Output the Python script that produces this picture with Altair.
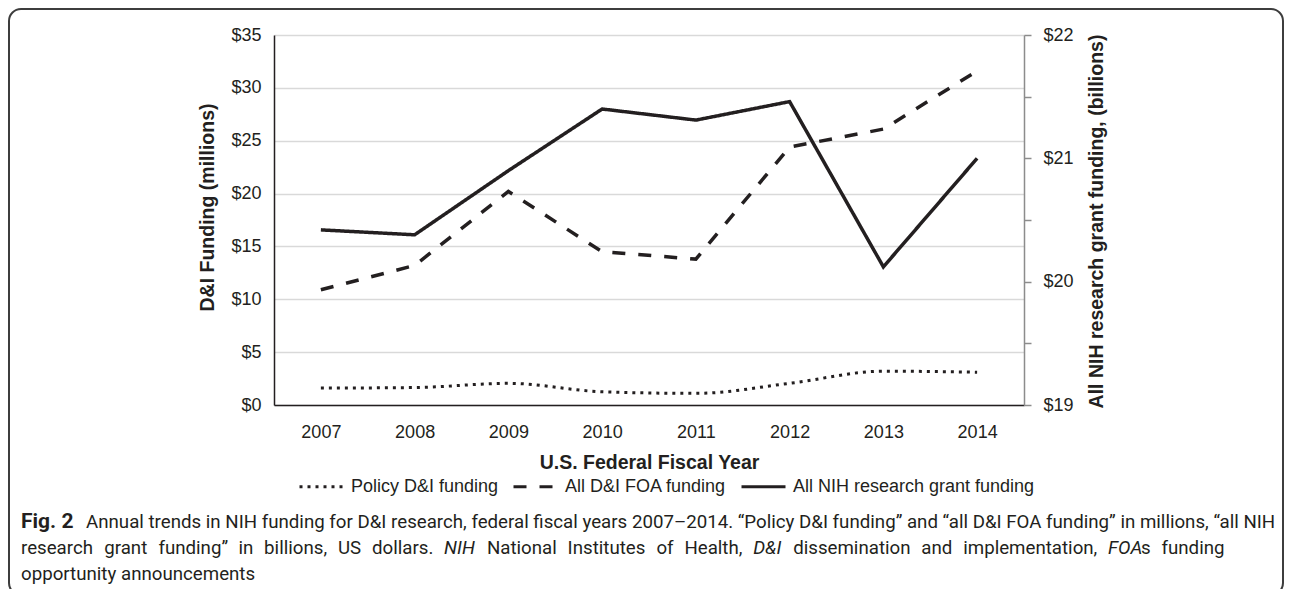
import altair as alt
import pandas as pd

# ---------------- data ----------------
years = ["2007", "2008", "2009", "2010", "2011", "2012", "2013", "2014"]
policy_di = [1.6, 1.65, 2.05, 1.25, 1.1, 2.05, 3.2, 3.1]          # millions
all_di_foa = [10.9, 13.2, 20.2, 14.5, 13.8, 24.4, 26.1, 31.6]      # millions
all_nih = [20.42, 20.38, 20.90, 21.40, 21.31, 21.46, 20.12, 21.00]  # billions

series_names = ["Policy D&I funding", "All D&I FOA funding", "All NIH research grant funding"]
left_ticks = [0, 5, 10, 15, 20, 25, 30, 35]
right_ticks = [19, 19.5, 20, 20.5, 21, 21.5, 22]

x_title = "U.S. Federal Fiscal Year"
left_title = "D&I Funding (millions)"
right_title = "All NIH research grant funding, (billions)"

caption_label = "Fig. 2"
caption_line1 = ("Annual trends in NIH funding for D&I research, federal fiscal years 2007\u20132014. "
                 "\u201cPolicy D&I funding\u201d and \u201call D&I FOA funding\u201d in millions, \u201call NIH")
# line 2 words; a word ending in "|" is glued to the next one (no space)
caption_line2_words = ["research", "grant", "funding\u201d", "in", "billions,", "US", "dollars.",
                       "NIH", "National", "Institutes", "of", "Health,", "D&I", "dissemination",
                       "and", "implementation,", "FOA|", "s", "funding"]
caption_italic_words = ["NIH", "D&I", "FOA"]
caption_line3 = "opportunity announcements"

# ---------------- style ----------------
INK = "#231f20"
FONT = "Liberation Sans"
CAP_FONT = "Roboto"
CAP_SIZE = 18.7
PLOT_X0, PLOT_Y0 = 274, 35  # page position of plot origin

# approximate Roboto advance widths (em) for laying out the justified caption line
_W = {" ": 0.248, "&": 0.62, ",": 0.196, ".": 0.263, "\u201d": 0.33, "\u201c": 0.33,
      "A": 0.652, "D": 0.657, "F": 0.555, "H": 0.714, "I": 0.28, "N": 0.714, "O": 0.688,
      "S": 0.594, "U": 0.649, "a": 0.544, "b": 0.561, "c": 0.523, "d": 0.564, "e": 0.529,
      "f": 0.347, "g": 0.561, "h": 0.551, "i": 0.243, "l": 0.243, "m": 0.876, "n": 0.552,
      "o": 0.570, "p": 0.561, "r": 0.338, "s": 0.516, "t": 0.327, "u": 0.551, "y": 0.473}


def text_w(s, fs=CAP_SIZE):
    return sum(_W.get(c, 0.55) for c in s) * fs


df_policy = pd.DataFrame({"year": years, "value": policy_di, "series": series_names[0]})
df_foa = pd.DataFrame({"year": years, "value": all_di_foa, "series": series_names[1]})
df_nih = pd.DataFrame({"year": years, "value": all_nih, "series": series_names[2]})

dash_scale = alt.Scale(domain=series_names, range=[[3, 5], [13, 13], [1, 0]])
legend = alt.Legend(
    title=None, orient="none", legendX=24, legendY=428, direction="horizontal",
    symbolType="stroke", symbolSize=1936, symbolStrokeWidth=3, symbolStrokeColor=INK,
    labelFontSize=18, labelFont=FONT, labelColor=INK, labelOffset=6, columnPadding=8,
    labelLimit=500,
)

x_enc = alt.X(
    "year:O",
    scale=alt.Scale(type="point", padding=0.5),
    axis=alt.Axis(title=x_title, labelAngle=0, ticks=False, domainColor=INK, domainWidth=1.5,
                  labelPadding=18, titlePadding=12, labelFontSize=18, titleFontSize=19.5,
                  titleFontWeight="bold", grid=False),
)

y_left = alt.Y(
    "value:Q",
    scale=alt.Scale(domain=[0, 35], nice=False, zero=False),
    axis=alt.Axis(title=left_title, values=left_ticks, format="$.0f", ticks=False,
                  domainColor=INK, domainWidth=1.5, grid=True, gridColor="#d9d9d9",
                  gridWidth=1.5, labelPadding=13, labelFontSize=18,
                  titleFontSize=19.5, titleFontWeight="bold",
                  titleX=207 - PLOT_X0, titleY=207 - PLOT_Y0, titleAngle=270,
                  titleAlign="center", titleBaseline="middle"),
)

y_right = alt.Y(
    "value:Q",
    scale=alt.Scale(domain=[19, 22], nice=False, zero=False),
    axis=alt.Axis(title=right_title, orient="right", values=right_ticks,
                  labelExpr="datum.value % 1 == 0 ? '$' + datum.value : ''",
                  tickSize=7, tickColor="#8c8c8c", tickWidth=1.5, domainColor="#8c8c8c",
                  domainWidth=1.5, grid=False, labelPadding=12,
                  labelFontSize=18, titleFontSize=19.5, titleFontWeight="bold",
                  titleX=1096 - 1024, titleY=221 - PLOT_Y0, titleAngle=270,
                  titleAlign="center", titleBaseline="middle"),
)

dotted = alt.Chart(df_policy).mark_line(
    color=INK, strokeWidth=3, interpolate="monotone"
).encode(x=x_enc, y=y_left, strokeDash=alt.StrokeDash("series:N", scale=dash_scale, legend=legend))

dashed = alt.Chart(df_foa).mark_line(color=INK, strokeWidth=3.5).encode(
    x=x_enc, y=y_left, strokeDash=alt.StrokeDash("series:N", scale=dash_scale, legend=legend))

left_group = alt.layer(dotted, dashed)

solid = alt.Chart(df_nih).mark_line(color=INK, strokeWidth=3.5).encode(
    x=x_enc, y=y_right, strokeDash=alt.StrokeDash("series:N", scale=dash_scale, legend=legend))

one = alt.Data(values=[{"k": 0}])

frame = alt.Chart(one).mark_rect(
    filled=False, stroke="#3d3d3d", strokeWidth=2, cornerRadius=12
).encode(
    x=alt.value(9 - PLOT_X0), x2=alt.value(1283 - PLOT_X0),
    y=alt.value(9 - PLOT_Y0), y2=alt.value(595 - PLOT_Y0),
)

# ---- caption layout: list of (text, page x, page y, size, weight, style) ----
Y1, Y2, Y3 = 522, 548, 574
segments = [
    (caption_label, 21, Y1, 21, "bold", "normal"),
    (caption_line1, 86, Y1, CAP_SIZE, "normal", "normal"),
    (caption_line3, 21, Y3, CAP_SIZE, "normal", "normal"),
]

# line 2 is justified between page x 21 and 1227
L2_START, L2_END = 21, 1227
words = [w.rstrip("|") for w in caption_line2_words]
glued = [w.endswith("|") for w in caption_line2_words]
n_gaps = sum(1 for g in glued[:-1] if not g)
gap = (L2_END - L2_START - sum(text_w(w) for w in words)) / n_gaps
x = L2_START
for w, g in zip(words, glued):
    st = "italic" if w in caption_italic_words else "normal"
    segments.append((w, x, Y2, CAP_SIZE, "normal", st))
    x += text_w(w) + (-2.5 if g else gap)

caption_layers = []
for txt, px, py, fs, wt, st in segments:
    caption_layers.append(
        alt.Chart(one).mark_text(
            align="left", baseline="middle", font=CAP_FONT, fontSize=fs,
            fontWeight=wt, fontStyle=st, color=INK,
        ).encode(x=alt.value(round(px - PLOT_X0, 1)), y=alt.value(py - PLOT_Y0),
                 text=alt.value(txt))
    )

chart = alt.layer(frame, left_group, solid, *caption_layers).resolve_scale(
    y="independent"
).properties(
    width=750, height=370,
    autosize=alt.AutoSizeParams(type="none"),
    padding={"left": 266, "top": 27, "right": 260, "bottom": 184},
).configure_view(strokeWidth=0).configure_axis(
    labelFont=FONT, titleFont=FONT, labelColor=INK, titleColor=INK,
)

chart.save("out.html", embed_options={"renderer": "svg", "actions": False})
